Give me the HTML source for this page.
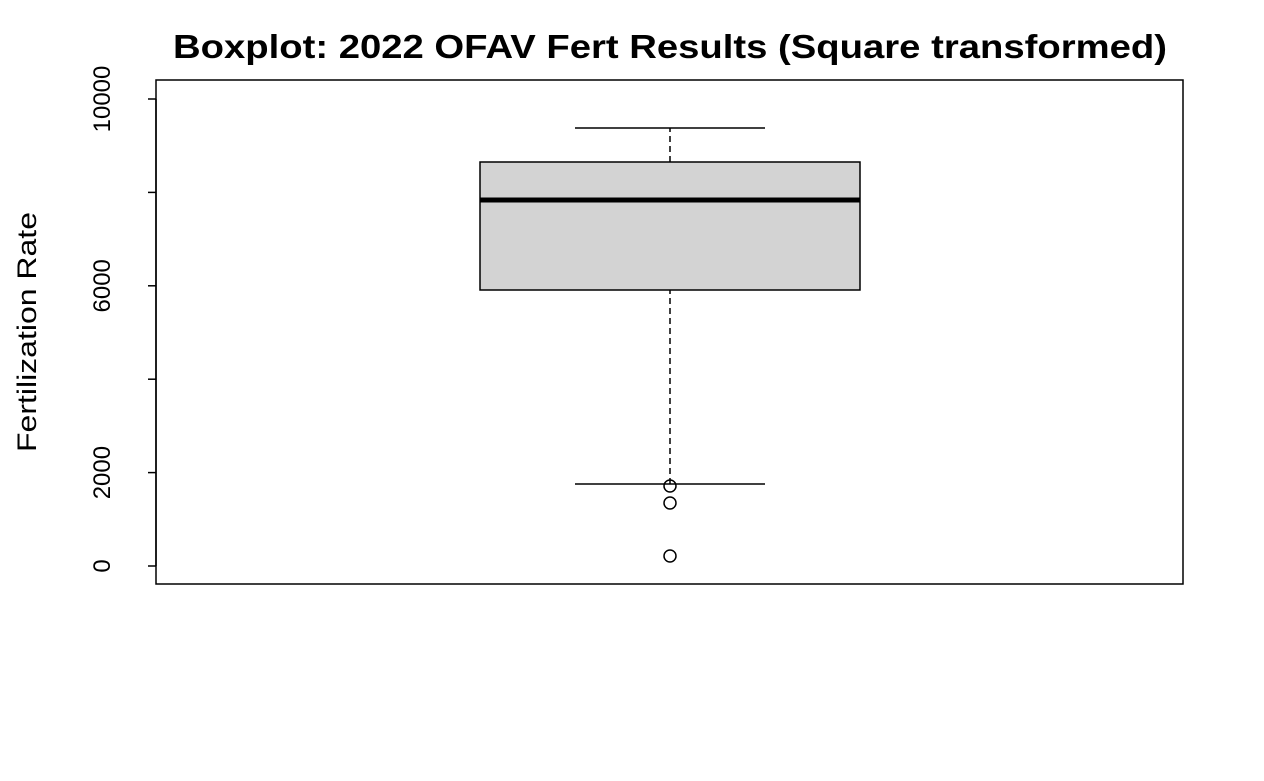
<!DOCTYPE html>
<html><head><meta charset="utf-8"><style>
html,body{margin:0;padding:0;background:#fff;}
svg{display:block;font-family:"Liberation Sans",Arial,sans-serif;}
</style></head><body>
<svg id="chart" width="1264" height="781">
<rect x="0" y="0" width="1264" height="781" fill="#fff"/>
<text x="670" y="58" text-anchor="middle" font-size="33" font-weight="bold" textLength="994" lengthAdjust="spacingAndGlyphs">Boxplot: 2022 OFAV Fert Results (Square transformed)</text>
<rect x="156" y="80" width="1027" height="504" fill="none" stroke="#000" stroke-width="1.5"/>
<text transform="translate(36,332) rotate(-90)" text-anchor="middle" font-size="27" textLength="240" lengthAdjust="spacingAndGlyphs">Fertilization Rate</text>
<g id="yaxis"></g>
<g id="box"></g>
</svg>
<script>
const yTicks = [0, 2000, 4000, 6000, 8000, 10000];
const yTickLabels = ["0", "2000", "", "6000", "", "10000"];
const stats = [1756, 5910, 7837, 8651, 9379]; // lower whisker, Q1, median, Q3, upper whisker
const outliers = [1713, 1349, 214];

const NS = "http://www.w3.org/2000/svg";
function y(v){ return 566 - v * (566 - 99) / 10000; }
const cx = 670, boxHalf = 190, whHalf = 95;
function mk(tag, attrs, parent){
  const e = document.createElementNS(NS, tag);
  for (const k in attrs) e.setAttribute(k, attrs[k]);
  parent.appendChild(e); return e;
}
const ya = document.getElementById('yaxis');
const axl = mk('line', {x1:156, x2:156, y1:y(yTicks[0]), y2:y(yTicks[yTicks.length-1]), stroke:'#000','stroke-width':1.5}, ya);


yTicks.forEach((t, i) => {
  const tl = mk('line', {x1:148, x2:156, y1:y(t), y2:y(t), stroke:'#000','stroke-width':1.5}, ya);
  
  
  if (yTickLabels[i]) {
    const tx = mk('text', {transform:`translate(110,${y(t)}) rotate(-90)`, 'text-anchor':'middle', 'font-size':24}, ya);
    tx.textContent = yTickLabels[i];
    
    
  }
});
const g = document.getElementById('box');
const [lw, q1, med, q3, uw] = stats;
const w1 = mk('line', {x1:cx, x2:cx, y1:y(q3), y2:y(uw), stroke:'#000','stroke-width':1.5,'stroke-dasharray':'6,4'}, g);


const w2 = mk('line', {x1:cx, x2:cx, y1:y(lw), y2:y(q1), stroke:'#000','stroke-width':1.5,'stroke-dasharray':'6,4'}, g);


const c1 = mk('line', {x1:cx-whHalf, x2:cx+whHalf, y1:y(uw), y2:y(uw), stroke:'#000','stroke-width':1.5}, g);


const c2 = mk('line', {x1:cx-whHalf, x2:cx+whHalf, y1:y(lw), y2:y(lw), stroke:'#000','stroke-width':1.5}, g);


const rb = mk('rect', {x:cx-boxHalf, y:y(q3), width:2*boxHalf, height:y(q1)-y(q3), fill:'#d3d3d3', stroke:'#000','stroke-width':1.5}, g);


const ml = mk('line', {x1:cx-boxHalf, x2:cx+boxHalf, y1:y(med), y2:y(med), stroke:'#000','stroke-width':5}, g);


outliers.forEach(v => {
  const c = mk('circle', {cx:cx, cy:y(v), r:6, fill:'none', stroke:'#000','stroke-width':1.5}, g);
  
  
});
</script>
</body></html>
